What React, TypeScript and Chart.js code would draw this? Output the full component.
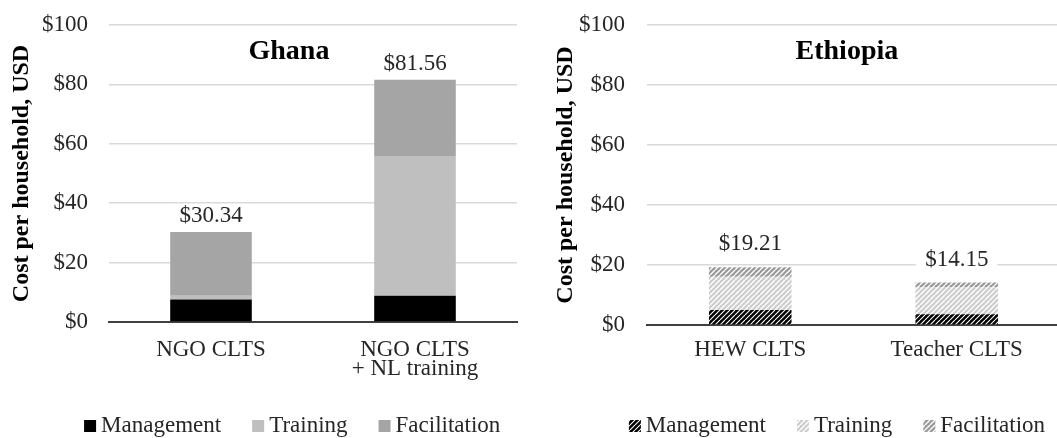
import React, { useEffect, useRef } from 'react';
import { Chart, registerables } from 'chart.js';

Chart.register(...registerables);

// ---------- Data ----------
const ghanaCategories: (string | string[])[] = ['NGO CLTS', ['NGO CLTS', '+ NL training']];
const ghanaManagement = [7.6, 8.85];
const ghanaTraining = [1.2, 47.05];
const ghanaFacilitation = [21.54, 25.66];

const ethiopiaCategories: (string | string[])[] = ['HEW CLTS', 'Teacher CLTS'];
const ethiopiaManagement = [5.0, 3.6];
const ethiopiaTraining = [11.1, 9.0];
const ethiopiaFacilitation = [3.11, 1.55];

const seriesNames = ['Management', 'Training', 'Facilitation'];
const yMin = 0;
const yMax = 100;
const yStep = 20;
const yAxisTitle = 'Cost per household, USD';

const FONT = "'Liberation Serif', 'Times New Roman', serif";
const TEXT = '#262626';
const FS = 23;

function makePattern(bg: string, line: string, lw: number) {
  const size = 5;
  const c = document.createElement('canvas');
  c.width = size;
  c.height = size;
  const ctx = c.getContext('2d')!;
  ctx.fillStyle = bg;
  ctx.fillRect(0, 0, size, size);
  ctx.strokeStyle = line;
  ctx.lineWidth = lw;
  for (const k of [-size, 0, size]) {
    ctx.beginPath();
    ctx.moveTo(k, size);
    ctx.lineTo(k + size, 0);
    ctx.stroke();
  }
  return ctx.createPattern(c, 'repeat')!;
}

const overlayPlugin = {
  id: 'overlay',
  afterDatasetsDraw(chart: any, _args: any, opts: any) {
    const { ctx, chartArea } = chart;
    const areaW = chartArea.right - chartArea.left;
    ctx.save();
    // title inside plot
    ctx.font = `bold 28px ${FONT}`;
    ctx.fillStyle = '#000';
    ctx.textAlign = 'center';
    ctx.textBaseline = 'middle';
    ctx.fillText(opts.title, chartArea.left + opts.titleFrac * areaW, chartArea.top + 27);
    // totals
    const n = chart.data.labels.length;
    const lastMeta = chart.getDatasetMeta(chart.data.datasets.length - 1);
    ctx.font = `${FS}px ${FONT}`;
    for (let i = 0; i < n; i++) {
      let total = 0;
      chart.data.datasets.forEach((d: any) => (total += d.data[i]));
      const el = lastMeta.data[i];
      const text = '$' + total.toFixed(2);
      const y = el.y - opts.labelOffset;
      const w = ctx.measureText(text).width;
      ctx.fillStyle = '#fff';
      ctx.fillRect(el.x - w / 2 - 9, y - 12, w + 18, 24);
      ctx.fillStyle = TEXT;
      ctx.fillText(text, el.x, y);
    }
    // legend
    const box = 12;
    const gap = 5;
    const itemGap = 31;
    ctx.font = `${FS}px ${FONT}`;
    ctx.textAlign = 'left';
    const items = chart.data.datasets.map((d: any) => ({
      label: d.label,
      color: d.backgroundColor,
      w: box + gap + ctx.measureText(d.label).width,
    }));
    const total = items.reduce((s: number, it: any) => s + it.w, 0) + itemGap * (items.length - 1);
    let x = chartArea.left + opts.legendFrac * areaW - total / 2;
    const ly = opts.legendY;
    items.forEach((it: any) => {
      ctx.fillStyle = it.color;
      ctx.fillRect(x, ly - box / 2, box, box);
      ctx.fillStyle = TEXT;
      ctx.fillText(it.label, x + box + gap, ly);
      x += it.w + itemGap;
    });
    ctx.restore();
  },
};

function buildChart(
  canvas: HTMLCanvasElement,
  categories: (string | string[])[],
  series: number[][],
  colors: (string | CanvasPattern)[],
  cfg: {
    title: string;
    titleFrac: number;
    legendFrac: number;
    legendY: number;
    labelOffset: number;
    padding: { left: number; right: number; top: number; bottom: number };
    yWidth: number;
    yTickPad: number;
    yTitlePad: number;
    xHeight: number;
    xTickPad: number;
  }
) {
  return new Chart(canvas, {
    type: 'bar',
    data: {
      labels: categories as any,
      datasets: series.map((d, i) => ({
        label: seriesNames[i],
        data: d,
        backgroundColor: colors[i] as any,
        borderWidth: 0,
        barPercentage: 0.4,
        categoryPercentage: 1,
      })),
    },
    options: {
      animation: false,
      responsive: false,
      maintainAspectRatio: false,
      layout: { padding: cfg.padding },
      plugins: {
        legend: { display: false },
        tooltip: { enabled: false },
        overlay: {
          title: cfg.title,
          titleFrac: cfg.titleFrac,
          legendFrac: cfg.legendFrac,
          legendY: cfg.legendY,
          labelOffset: cfg.labelOffset,
        },
      } as any,
      scales: {
        x: {
          stacked: true,
          grid: { display: false, drawTicks: false },
          border: { display: true, color: '#404040', width: 2 },
          ticks: {
            color: TEXT,
            padding: cfg.xTickPad,
            font: { family: FONT, size: FS, lineHeight: 0.85 },
          },
          afterFit: (s: any) => {
            s.height = cfg.xHeight;
          },
        },
        y: {
          stacked: true,
          min: yMin,
          max: yMax,
          grid: { color: '#d9d9d9', lineWidth: 1.5, drawTicks: false },
          border: { display: false },
          ticks: {
            stepSize: yStep,
            color: TEXT,
            padding: cfg.yTickPad,
            font: { family: FONT, size: FS },
            callback: (v: any) => '$' + v,
          },
          title: {
            display: true,
            text: yAxisTitle,
            color: '#000',
            font: { family: FONT, size: 24, weight: 'bold', lineHeight: 1 },
            padding: { top: cfg.yTitlePad, bottom: 0 },
          },
          afterFit: (s: any) => {
            s.width = cfg.yWidth;
            s.paddingTop = 0;
            s.paddingBottom = 0;
          },
        },
      },
    },
    plugins: [overlayPlugin],
  });
}

export default function App() {
  const leftRef = useRef<HTMLCanvasElement>(null);
  const rightRef = useRef<HTMLCanvasElement>(null);

  useEffect(() => {
    const left = buildChart(
      leftRef.current!,
      ghanaCategories,
      [ghanaManagement, ghanaTraining, ghanaFacilitation],
      ['#000000', '#bfbfbf', '#a5a5a5'],
      {
        title: 'Ghana',
        titleFrac: 0.441,
        legendFrac: 0.449,
        legendY: 426,
        labelOffset: 16,
        padding: { left: 10, right: 13, top: 25, bottom: 56 },
        yWidth: 99,
        yTickPad: 21,
        yTitlePad: 0,
        xHeight: 60,
        xTickPad: 18,
      }
    );
    const right = buildChart(
      rightRef.current!,
      ethiopiaCategories,
      [ethiopiaManagement, ethiopiaTraining, ethiopiaFacilitation],
      [
        makePattern('#000000', '#ffffff', 1.1),
        makePattern('#cccccc', '#ffffff', 1.5),
        makePattern('#999999', '#ffffff', 1.3),
      ],
      {
        title: 'Ethiopia',
        titleFrac: 0.484,
        legendFrac: 0.46,
        legendY: 426,
        labelOffset: 23,
        padding: { left: 0, right: 0, top: 25, bottom: 53 },
        yWidth: 117,
        yTickPad: 22,
        yTitlePad: 24,
        xHeight: 60,
        xTickPad: 15,
      }
    );
    return () => {
      left.destroy();
      right.destroy();
    };
  }, []);

  return (
    <div
      style={{
        position: 'absolute',
        left: 0,
        top: 0,
        width: 1057,
        height: 438,
        overflow: 'hidden',
        background: '#fff',
      }}
    >
      <div style={{ position: 'absolute', left: 0, top: 0, width: 530, height: 438 }}>
        <canvas ref={leftRef} width={530} height={438} />
      </div>
      <div style={{ position: 'absolute', left: 530, top: 0, width: 530, height: 438 }}>
        <canvas ref={rightRef} width={530} height={438} />
      </div>
    </div>
  );
}
